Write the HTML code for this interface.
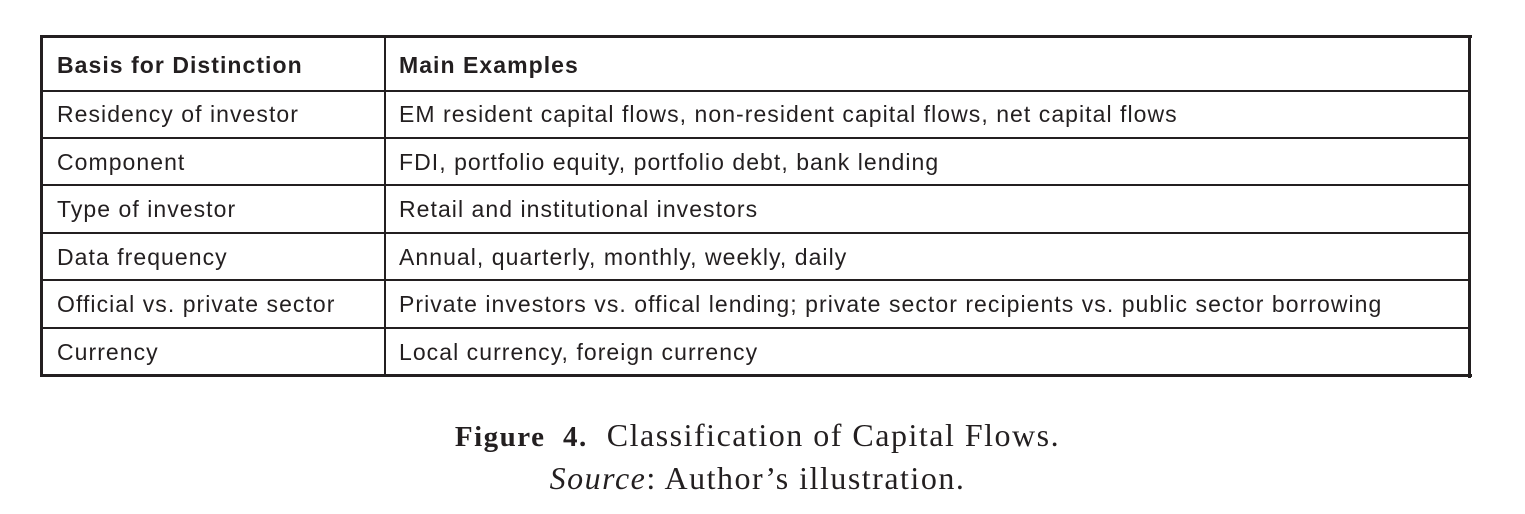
<!DOCTYPE html>
<html><head><meta charset="utf-8"><style>
body{margin:0;width:1525px;height:514px;background:#fff;position:relative;overflow:hidden;font-family:"Liberation Sans",Arial,sans-serif;color:#231f20}
.h{position:absolute;background:#231f20}
.t{position:absolute;font-size:23px;line-height:26px;white-space:nowrap;letter-spacing:1.05px}
.b{font-weight:bold}
.cap{position:absolute;left:0;width:1515px;text-align:center;font-family:"Liberation Serif",serif;font-size:32px;letter-spacing:1.5px;white-space:nowrap}
</style></head><body>
<div>
<div class="h" style="left:40px;top:35px;width:1432px;height:3px"></div>
<div class="h" style="left:40px;top:374px;width:1432px;height:3px"></div>
<div class="h" style="left:40px;top:35px;width:3px;height:342px"></div>
<div class="h" style="left:1468px;top:35px;width:3px;height:343px"></div>
<div class="h" style="left:384px;top:35px;width:2px;height:342px"></div>
<div class="h" style="left:40px;top:90px;width:1430px;height:2px"></div>
<div class="h" style="left:40px;top:137px;width:1430px;height:2px"></div>
<div class="h" style="left:40px;top:184px;width:1430px;height:2px"></div>
<div class="h" style="left:40px;top:232px;width:1430px;height:2px"></div>
<div class="h" style="left:40px;top:279px;width:1430px;height:2px"></div>
<div class="h" style="left:40px;top:327px;width:1430px;height:2px"></div>

<div class="t b" style="left:57px;top:52px">Basis for Distinction</div>
<div class="t b" style="left:399px;top:52px">Main Examples</div>

<div class="t" style="left:57px;top:101px">Residency of investor</div>
<div class="t" style="left:399px;top:101px">EM resident capital flows, non-resident capital flows, net capital flows</div>
<div class="t" style="left:57px;top:149px">Component</div>
<div class="t" style="left:399px;top:149px">FDI, portfolio equity, portfolio debt, bank lending</div>
<div class="t" style="left:57px;top:196px">Type of investor</div>
<div class="t" style="left:399px;top:196px">Retail and institutional investors</div>
<div class="t" style="left:57px;top:244px">Data frequency</div>
<div class="t" style="left:399px;top:244px">Annual, quarterly, monthly, weekly, daily</div>
<div class="t" style="left:57px;top:291px">Official vs. private sector</div>
<div class="t" style="left:399px;top:291px">Private investors vs. offical lending; private sector recipients vs. public sector borrowing</div>
<div class="t" style="left:57px;top:339px">Currency</div>
<div class="t" style="left:399px;top:339px">Local currency, foreign currency</div>
</div>

<div class="cap" style="top:417px"><b style="font-size:29px">Figure&nbsp; 4.</b>&nbsp; Classification of Capital Flows.</div>
<div class="cap" style="top:460px"><i>Source</i>: Author’s illustration.</div>
</body></html>
